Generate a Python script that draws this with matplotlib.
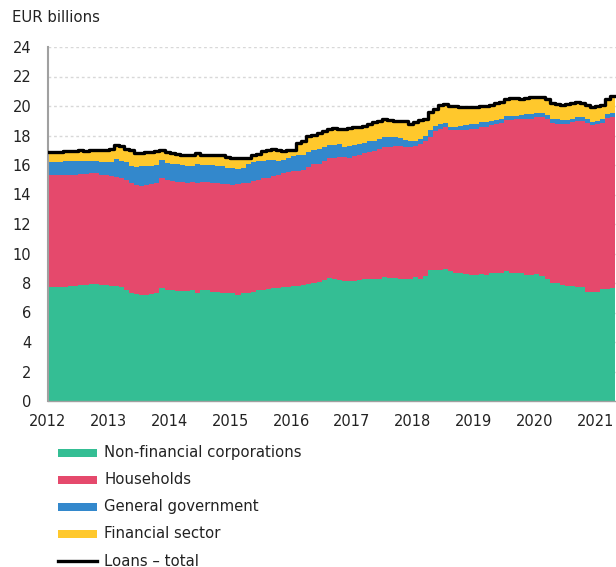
import numpy as np
import matplotlib
matplotlib.use("Agg")
import matplotlib.pyplot as plt
from matplotlib.patches import Rectangle
from matplotlib.lines import Line2D

# Monthly loan stock, EUR billions, Jan 2012 .. Apr 2021
start_year = 2012
non_financial_corps = [
    7.7, 7.7, 7.7, 7.75, 7.8, 7.8, 7.85, 7.85, 7.9, 7.9, 7.85, 7.85,
    7.8, 7.8, 7.7, 7.5, 7.3, 7.25, 7.2, 7.2, 7.25, 7.3, 7.65, 7.5,
    7.5, 7.45, 7.45, 7.45, 7.5, 7.35, 7.5, 7.5, 7.4, 7.4, 7.35, 7.35,
    7.3, 7.2, 7.3, 7.35, 7.4, 7.5, 7.55, 7.6, 7.65, 7.65, 7.7, 7.75,
    7.8, 7.8, 7.85, 7.9, 8.0, 8.1, 8.2, 8.35, 8.25, 8.2, 8.15, 8.15,
    8.15, 8.2, 8.25, 8.25, 8.25, 8.3, 8.4, 8.35, 8.35, 8.3, 8.25, 8.25,
    8.4, 8.3, 8.45, 8.85, 8.9, 8.9, 8.95, 8.8, 8.7, 8.7, 8.6, 8.55,
    8.55, 8.6, 8.55, 8.65, 8.65, 8.65, 8.8, 8.7, 8.65, 8.65, 8.55, 8.55,
    8.6, 8.45, 8.3, 8.0, 8.0, 7.85, 7.8, 7.8, 7.75, 7.7, 7.4, 7.4,
    7.4, 7.6, 7.6, 7.65,
]
households = [
    7.6, 7.6, 7.6, 7.55, 7.55, 7.55, 7.55, 7.55, 7.55, 7.55, 7.45, 7.45,
    7.45, 7.4, 7.4, 7.5, 7.45, 7.4, 7.4, 7.45, 7.45, 7.45, 7.5, 7.45,
    7.4, 7.4, 7.4, 7.35, 7.35, 7.45, 7.35, 7.35, 7.4, 7.35, 7.35, 7.35,
    7.35, 7.5, 7.45, 7.45, 7.5, 7.5, 7.55, 7.5, 7.6, 7.65, 7.75, 7.75,
    7.8, 7.8, 7.8, 7.95, 8.05, 8.0, 8.1, 8.1, 8.25, 8.35, 8.4, 8.3,
    8.45, 8.45, 8.55, 8.6, 8.7, 8.8, 8.8, 8.9, 8.95, 9.0, 9.0, 9.0,
    8.9, 9.1, 9.15, 9.05, 9.4, 9.55, 9.6, 9.55, 9.65, 9.65, 9.8, 9.9,
    9.9, 10.0, 10.05, 10.05, 10.15, 10.2, 10.25, 10.35, 10.45, 10.45, 10.6, 10.6,
    10.65, 10.8, 10.8, 10.85, 10.8, 10.9, 10.95, 11.1, 11.25, 11.25, 11.45, 11.3,
    11.4, 11.25, 11.6, 11.6,
]
general_government = [
    0.9, 0.9, 0.9, 0.95, 0.9, 0.95, 0.9, 0.9, 0.85, 0.8, 0.9, 0.9,
    0.95, 1.2, 1.15, 1.2, 1.15, 1.2, 1.3, 1.3, 1.25, 1.25, 1.2, 1.2,
    1.2, 1.2, 1.15, 1.15, 1.1, 1.3, 1.15, 1.15, 1.2, 1.2, 1.2, 1.1,
    1.15, 1.05, 1.05, 1.25, 1.3, 1.25, 1.2, 1.25, 1.1, 1.0, 0.9, 1.0,
    1.0, 1.05, 1.05, 1.0, 0.95, 1.0, 0.95, 0.9, 0.85, 0.85, 0.7, 0.85,
    0.75, 0.8, 0.7, 0.75, 0.7, 0.65, 0.7, 0.65, 0.6, 0.5, 0.45, 0.4,
    0.35, 0.35, 0.4, 0.45, 0.35, 0.3, 0.3, 0.25, 0.25, 0.3, 0.3, 0.3,
    0.3, 0.3, 0.3, 0.3, 0.25, 0.3, 0.25, 0.3, 0.25, 0.3, 0.3, 0.3,
    0.3, 0.3, 0.3, 0.3, 0.3, 0.3, 0.3, 0.25, 0.25, 0.3, 0.3, 0.2,
    0.2, 0.25, 0.25, 0.3,
]
financial_sector = [
    0.65, 0.65, 0.65, 0.7, 0.7, 0.65, 0.7, 0.65, 0.7, 0.75, 0.85, 0.85,
    0.9, 0.95, 1.05, 0.9, 1.1, 0.95, 0.9, 0.9, 0.95, 0.95, 0.65, 0.7,
    0.7, 0.7, 0.7, 0.7, 0.7, 0.65, 0.7, 0.7, 0.7, 0.75, 0.8, 0.75,
    0.7, 0.75, 0.7, 0.45, 0.5, 0.5, 0.65, 0.65, 0.75, 0.7, 0.6, 0.5,
    0.45, 0.85, 0.9, 1.1, 1.1, 1.1, 1.05, 1.1, 1.15, 1.05, 1.2, 1.2,
    1.2, 1.15, 1.15, 1.15, 1.25, 1.25, 1.2, 1.15, 1.1, 1.2, 1.25, 1.15,
    1.25, 1.3, 1.1, 1.25, 1.15, 1.3, 1.3, 1.4, 1.4, 1.3, 1.15, 1.15,
    1.2, 1.1, 1.1, 1.1, 1.15, 1.15, 1.2, 1.2, 1.2, 1.1, 1.1, 1.1,
    1.05, 1.05, 1.1, 1.05, 1.05, 1.05, 1.1, 1.05, 1.0, 0.95, 0.95, 1.05,
    1.0, 1.0, 1.05, 1.15,
]
loans_total = [
    16.85, 16.85, 16.85, 16.95, 16.95, 16.95, 17.0, 16.95, 17.0, 17.0, 17.05, 17.05,
    17.1, 17.35, 17.3, 17.1, 17.0, 16.8, 16.8, 16.85, 16.9, 16.95, 17.0, 16.85,
    16.8, 16.75, 16.7, 16.65, 16.65, 16.8, 16.7, 16.7, 16.7, 16.7, 16.7, 16.55,
    16.5, 16.5, 16.5, 16.5, 16.7, 16.75, 16.95, 17.0, 17.1, 17.0, 16.95, 17.0,
    17.05, 17.5, 17.6, 17.95, 18.05, 18.2, 18.3, 18.45, 18.5, 18.45, 18.45, 18.5,
    18.55, 18.6, 18.65, 18.75, 18.9, 19.0, 19.1, 19.05, 19.0, 19.0, 18.95, 18.8,
    18.9, 19.05, 19.1, 19.6, 19.8, 20.05, 20.15, 20.0, 20.0, 19.95, 19.9, 19.9,
    19.95, 20.0, 20.0, 20.1, 20.2, 20.3, 20.5, 20.55, 20.55, 20.5, 20.55, 20.6,
    20.6, 20.6, 20.5, 20.2, 20.15, 20.1, 20.15, 20.2, 20.25, 20.2, 20.1, 19.95,
    20.0, 20.1, 20.5, 20.7,
]
series_labels = ["Non-financial corporations", "Households",
                 "General government", "Financial sector"]
series_colors = ["#34be94", "#e5496c", "#3388cc", "#ffc82c"]
total_label = "Loans \u2013 total"
year_ticks = list(range(2012, 2022))
y_ticks = list(range(0, 25, 2))

n = len(loans_total)
x = start_year + np.arange(n + 1) / 12.0


def ext(vals):
    # repeat last value so the final month gets its full step width
    v = np.asarray(vals, dtype=float)
    return np.append(v, v[-1])


plt.rcParams["font.family"] = "DejaVu Sans"
text_color = "#222222"

fig = plt.figure(figsize=(6.16, 5.67), dpi=100)
W, H = 616, 567
ax = fig.add_axes([48 / W, 1 - 401 / H, 1 - 48 / W, (401 - 47) / H])

bottom = np.zeros(n + 1)
for vals, color in zip(
    [non_financial_corps, households, general_government, financial_sector],
    series_colors,
):
    top = bottom + ext(vals)
    ax.fill_between(x, bottom, top, step="post", color=color, linewidth=0, zorder=2)
    bottom = top

ax.step(x, ext(loans_total), where="post", color="black", linewidth=2.4, zorder=3)

# 2012 .. 2021 labels sit about 60.8 px apart in the reference
ax.set_xlim(2012, 2012 + (616 - 48) / 60.8)
ax.set_ylim(0, 24)
ax.set_yticks(y_ticks)
ax.set_xticks(year_ticks)
ax.set_xticklabels([str(y) for y in year_ticks])
ax.tick_params(axis="both", length=0, labelsize=10.5, colors=text_color)
ax.tick_params(axis="y", pad=12)
ax.tick_params(axis="x", pad=9)
ax.grid(axis="y", color="#d8d8d8", linestyle=(0, (2, 2)), linewidth=1, zorder=0)
ax.set_axisbelow(True)
for side in ["top", "right"]:
    ax.spines[side].set_visible(False)
ax.spines["left"].set_color("#a0a0a0")
ax.spines["left"].set_linewidth(1.5)
ax.spines["bottom"].set_color("#a0a0a0")
ax.spines["bottom"].set_linewidth(1)

fig.text(12 / W, 1 - 18 / H, "EUR billions", fontsize=10.7, color=text_color,
         ha="left", va="center")

# legend below the plot
row_y = [453, 480, 507, 534, 561]
for yy, label, color in zip(row_y, series_labels, series_colors):
    fig.add_artist(Rectangle((58 / W, 1 - (yy + 4) / H), 39 / W, 8 / H,
                             transform=fig.transFigure, color=color, linewidth=0))
    fig.text(104 / W, 1 - yy / H, label, fontsize=10.7, color=text_color,
             ha="left", va="center")
fig.add_artist(Line2D([58 / W, 97 / W], [1 - row_y[4] / H, 1 - row_y[4] / H],
                      transform=fig.transFigure, color="black", linewidth=2.4))
fig.text(104 / W, 1 - row_y[4] / H, total_label, fontsize=10.7, color=text_color,
         ha="left", va="center")

fig.savefig("out.png", dpi=100)
